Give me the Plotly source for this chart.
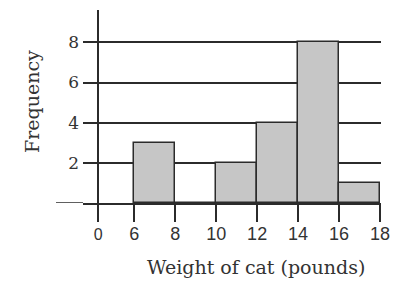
import plotly.graph_objects as go

# ---- data ----
bin_left = [6, 8, 10, 12, 14, 16]
bin_width = 2
frequency = [3, 0, 2, 4, 8, 1]
y_ticks = [2, 4, 6, 8]
x_tick_labels = ["0", "6", "8", "10", "12", "14", "16", "18"]
x_tick_values = [0, 6, 8, 10, 12, 14, 16, 18]

# broken axis: the "0" tick is drawn just left of 6
ZERO_POS = 4.24
x_tick_pos = [ZERO_POS if v == 0 else v for v in x_tick_values]

W, H = 412, 293
L, R, T, B = 83, 31, 10, 90
plot_w = W - L - R
plot_h = H - T - B

LINE = "#2b2b2b"
x_range = [3.495, 18.05]
y_range = [0, 9.61]

centers = [b + bin_width / 2 for b in bin_left]

fig = go.Figure()
fig.add_trace(go.Bar(
    x=centers, y=frequency, width=[bin_width] * len(centers),
    marker=dict(color="#c6c6c6", line=dict(color=LINE, width=1.5)),
    hoverinfo="skip", showlegend=False,
))

xpos_axis = (ZERO_POS - x_range[0]) / (x_range[1] - x_range[0])

fig.update_layout(
    width=W, height=H,
    margin=dict(l=L, r=R, t=T, b=B, pad=0),
    paper_bgcolor="white", plot_bgcolor="white",
    bargap=0,
    xaxis=dict(
        range=x_range, tickmode="array", tickvals=x_tick_pos,
        ticktext=["<span style='font-size:16px'>0</span>"] + x_tick_labels[1:],
        ticks="outside", ticklen=17, tickwidth=1.5, tickcolor=LINE,
        showline=True, linecolor=LINE, linewidth=1.5,
        showgrid=False, zeroline=False,
        ticklabelstandoff=-3,
        tickfont=dict(family="Arial", size=18, color="#333"),
        fixedrange=True,
    ),
    yaxis=dict(
        range=y_range, tickmode="array", tickvals=y_ticks,
        anchor="free", position=xpos_axis,
        ticks="outside", ticklen=15, tickwidth=1.5, tickcolor=LINE,
        showline=True, linecolor=LINE, linewidth=1.5,
        showgrid=True, gridcolor=LINE, gridwidth=1.5,
        zeroline=False,
        tickfont=dict(family="DejaVu Serif", size=17, color="#333"),
        fixedrange=True,
    ),
    shapes=[dict(type="line", xref="paper", yref="y",
                 x0=(56 - L) / plot_w, x1=0, y0=0, y1=0,
                 line=dict(color=LINE, width=1.5))],
    annotations=[
        dict(text="Frequency", xref="paper", yref="paper",
             x=(32 - L) / plot_w, y=(H - B - 102) / plot_h,
             xanchor="center", yanchor="middle", textangle=-90, showarrow=False,
             font=dict(family="DejaVu Serif", size=19, color="#333")),
        dict(text="Weight of cat (pounds)", xref="paper", yref="paper",
             x=(256 - L) / plot_w, y=(H - B - 267) / plot_h,
             xanchor="center", yanchor="middle", showarrow=False,
             font=dict(family="DejaVu Serif", size=19, color="#333")),
    ],
)

fig.write_html("out.html", config={"displayModeBar": False})
